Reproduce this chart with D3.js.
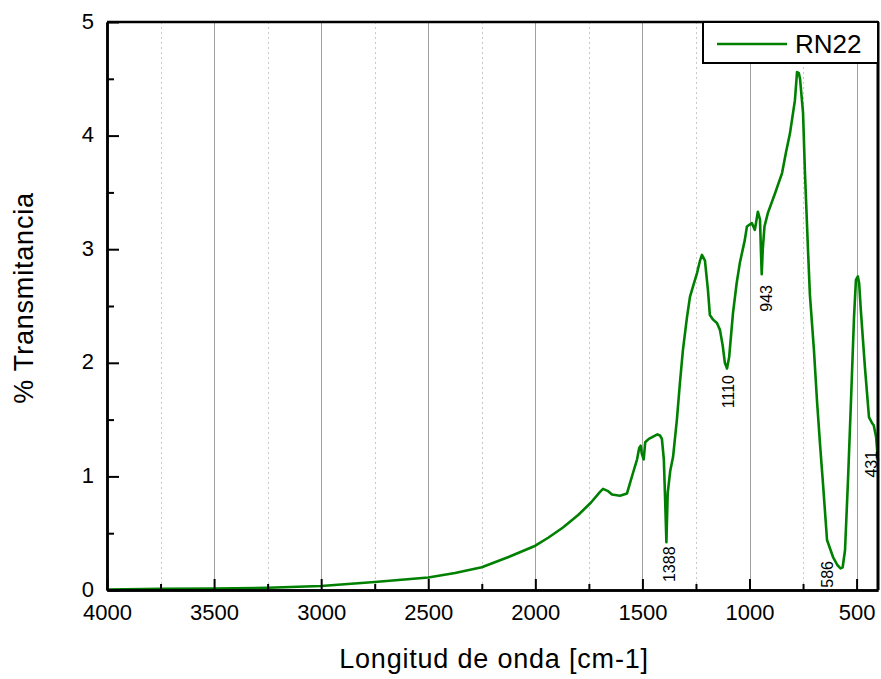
<!DOCTYPE html>
<html><head><meta charset="utf-8">
<script src="https://cdn.jsdelivr.net/npm/d3@7"></script>
<style>body{margin:0;background:#fff}svg{display:block}text{font-family:"Liberation Sans",Arial,sans-serif;fill:#000}</style>
</head><body><svg id="c" width="881" height="679"></svg>
<script>
// ---- data ----
const wavenumber = [4000,3750,3500,3250,3000,2750,2500,2375,2250,2125,2000,1940,1871,1800,1740,1700,1684,1660,1642,1605,1572,1558,1544,1525,1515,1508,1503,1494,1487,1470,1450,1430,1418,1409,1400,1394,1388,1382,1370,1357,1339,1325,1311,1292,1278,1264,1245,1231,1222,1208,1194,1185,1170,1152,1138,1125,1115,1105,1095,1077,1060,1045,1022,1012,989,975,961,951,946,943,938,930,914,881,848,830,811,788,778,770,764,750,741,727,718,699,685,671,657,638,610,590,575,565,554,540,526,512,503,494,488,480,461,442,436,428,420,409,400];
const transmittance = [0.005,0.01,0.012,0.02,0.035,0.07,0.11,0.15,0.2,0.29,0.39,0.46,0.55,0.66,0.77,0.86,0.89,0.87,0.84,0.83,0.85,0.94,1.03,1.15,1.25,1.27,1.2,1.15,1.3,1.33,1.35,1.37,1.36,1.33,1.15,0.8,0.42,0.85,1.05,1.17,1.5,1.82,2.11,2.4,2.58,2.67,2.79,2.9,2.95,2.9,2.64,2.42,2.38,2.35,2.29,2.15,2.0,1.95,2.05,2.44,2.7,2.88,3.08,3.2,3.23,3.17,3.33,3.26,2.95,2.78,3.0,3.2,3.32,3.49,3.67,3.85,4.02,4.31,4.56,4.55,4.5,4.2,3.67,3.0,2.6,2.11,1.67,1.29,0.94,0.44,0.29,0.22,0.19,0.2,0.35,0.97,1.67,2.4,2.73,2.76,2.7,2.46,1.96,1.52,1.5,1.47,1.45,1.35,1.14];
const seriesName = "RN22";
const xMajorTicks = [4000,3500,3000,2500,2000,1500,1000,500];
const xMinorTicks = [3750,3250,2750,2250,1750,1250,750];
const yMajorTicks = [0,1,2,3,4,5];
const yMinorTicks = [0.5,1.5,2.5,3.5,4.5];
const peakLabels = ["1388","1110","943","586","431"];
const peakLabelX = [1348,1072,895,610,405];
const peakLabelY = [0.07,1.60,2.45,0.02,0.99];
const xTitle = "Longitud de onda [cm-1]";
const yTitle = "% Transmitancia";

// ---- layout ----
const L=107, T=22, W=771, H=568;
const svg=d3.select("#c");
const x=d3.scaleLinear().domain([4000,400]).range([L,L+W]);
const y=d3.scaleLinear().domain([0,5]).range([T+H,T]);

// grid
const g=svg.append("g");
g.selectAll("line.maj").data(xMajorTicks.filter(d=>d!==4000)).join("line")
 .attr("x1",d=>Math.round(x(d))+0.5).attr("x2",d=>Math.round(x(d))+0.5).attr("y1",T).attr("y2",T+H)
 .attr("stroke","#a0a0a0").attr("stroke-width",1);
g.selectAll("line.min").data(xMinorTicks).join("line")
 .attr("x1",d=>Math.round(x(d))+0.5).attr("x2",d=>Math.round(x(d))+0.5).attr("y1",T).attr("y2",T+H)
 .attr("stroke","#c8c8c8").attr("stroke-width",1).attr("stroke-dasharray","2,3");

// curve
const pts=wavenumber.map((w,i)=>[w,transmittance[i]]);
svg.append("path").datum(pts).attr("fill","none").attr("stroke","#008000").attr("stroke-width",2.6)
 .attr("stroke-linejoin","round")
 .attr("d",d3.line().x(d=>x(d[0])).y(d=>y(d[1])));

// axes
const fontSize=22;
const xAx=svg.append("g").attr("transform",`translate(0,${T+H})`)
 .call(d3.axisBottom(x).tickValues(xMajorTicks).tickFormat(d3.format("d")).tickSizeInner(-11).tickSizeOuter(0).tickPadding(14));
const xAxMin=svg.append("g").attr("transform",`translate(0,${T+H})`)
 .call(d3.axisBottom(x).tickValues(xMinorTicks).tickFormat("").tickSizeInner(-6).tickSizeOuter(0));
const yAx=svg.append("g").attr("transform",`translate(${L},0)`)
 .call(d3.axisLeft(y).tickValues(yMajorTicks).tickFormat(d3.format("d")).tickSizeInner(-12).tickSizeOuter(0).tickPadding(13));
const yAxMin=svg.append("g").attr("transform",`translate(${L},0)`)
 .call(d3.axisLeft(y).tickValues(yMinorTicks).tickFormat("").tickSizeInner(-7).tickSizeOuter(0));
[xAx,xAxMin,yAx,yAxMin].forEach(a=>{
  a.selectAll(".domain").attr("stroke","#000").attr("stroke-width",2.5);
  a.selectAll(".tick line").attr("stroke","#000").attr("stroke-width",2);
  a.selectAll("text").attr("font-size",fontSize).attr("font-family","'Liberation Sans',Arial,sans-serif").attr("fill","#000");
});
yAx.selectAll(".tick text").attr("dy","0.28em");
// top and right borders
svg.append("line").attr("x1",L).attr("x2",L+W).attr("y1",T).attr("y2",T).attr("stroke","#000").attr("stroke-width",2.5);
svg.append("line").attr("x1",L+W).attr("x2",L+W).attr("y1",T).attr("y2",T+H).attr("stroke","#000").attr("stroke-width",3);

// peak labels
svg.selectAll("text.pk").data(peakLabels).join("text")
 .attr("transform",(d,i)=>`translate(${x(peakLabelX[i])},${y(peakLabelY[i])}) rotate(-90)`)
 .attr("font-size",16).attr("text-anchor","start").text(d=>d);

// legend
const lg=svg.append("g");
lg.append("rect").attr("x",703).attr("y",T).attr("width",L+W-703).attr("height",41)
 .attr("fill","#fff").attr("stroke","#000").attr("stroke-width",2);
lg.append("line").attr("x1",717).attr("x2",787).attr("y1",44).attr("y2",44).attr("stroke","#008000").attr("stroke-width",2.6);
lg.append("text").attr("x",795).attr("y",53).attr("font-size",26).text(seriesName);

// titles
svg.append("text").attr("x",494).attr("y",668).attr("text-anchor","middle").attr("font-size",27)
 .attr("letter-spacing","0.8").text(xTitle);
svg.append("text").attr("transform","translate(33,298) rotate(-90)").attr("text-anchor","middle").attr("font-size",27)
 .attr("letter-spacing","0.8").text(yTitle);
</script></body></html>
